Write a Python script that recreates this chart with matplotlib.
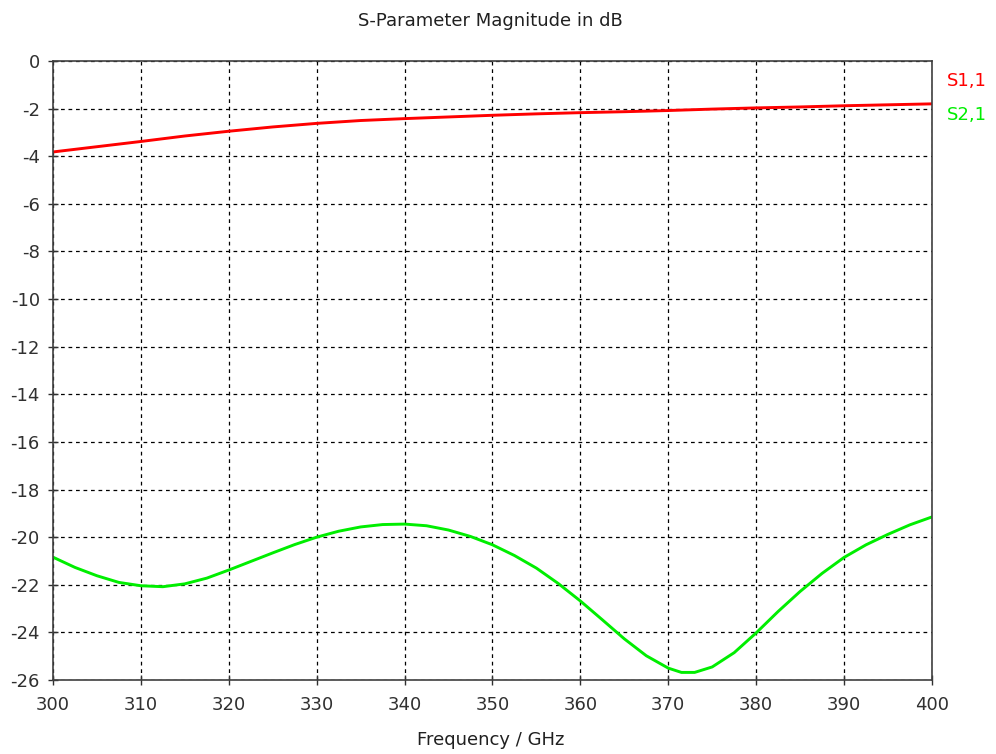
import matplotlib
matplotlib.use("Agg")
import matplotlib.pyplot as plt

# values
freq_s11 = [300, 305, 310, 315, 320, 325, 330, 335, 340, 345, 350,
            355, 360, 365, 370, 375, 380, 385, 390, 395, 400]
s11_db = [-3.82, -3.6, -3.38, -3.15, -2.95, -2.77, -2.62, -2.5, -2.42, -2.35, -2.28,
          -2.22, -2.17, -2.13, -2.08, -2.02, -1.97, -1.93, -1.88, -1.84, -1.8]

freq_s21 = [300, 302.5, 305, 307.5, 310, 312.5, 315, 317.5, 320, 322.5, 325,
            327.5, 330, 332.5, 335, 337.5, 340, 342.5, 345, 347.5, 350,
            352.5, 355, 357.5, 360, 362.5, 365, 367.5, 370, 371.5, 373, 375,
            377.5, 380, 382.5, 385, 387.5, 390, 392.5, 395, 397.5, 400]
s21_db = [-20.84, -21.27, -21.62, -21.9, -22.04, -22.08, -21.96, -21.72, -21.38, -21.02, -20.66,
          -20.31, -20.0, -19.75, -19.57, -19.47, -19.45, -19.52, -19.7, -19.97, -20.32,
          -20.77, -21.3, -21.95, -22.68, -23.47, -24.27, -24.98, -25.5, -25.68, -25.68, -25.45,
          -24.85, -24.02, -23.12, -22.28, -21.52, -20.85, -20.32, -19.88, -19.48, -19.15]

x_ticks = list(range(300, 401, 10))
y_ticks = list(range(-26, 1, 2))

plt.rcParams["font.family"] = ["DejaVu Sans"]
plt.rcParams["axes.unicode_minus"] = False

fig = plt.figure(figsize=(9.96, 7.54), dpi=100)
ax = fig.add_axes([0.0532, 0.0981, 0.8825, 0.8210])

ax.plot(freq_s11, s11_db, color="#ff0000", lw=2.1)
ax.plot(freq_s21, s21_db, color="#00ee00", lw=2.1)

ax.set_xlim(300, 400)
ax.set_ylim(-26, 0)
ax.set_xticks(x_ticks)
ax.set_yticks(y_ticks)
ax.grid(True, color="black", linestyle=(0, (3, 3)), linewidth=0.9)
ax.tick_params(direction="inout", length=7, width=1, labelsize=13, colors="#303030")
ax.tick_params(axis="x", pad=8)
ax.tick_params(axis="y", pad=6)
for sp in ax.spines.values():
    sp.set_color("#404040")
    sp.set_linewidth(1.2)

fig.text(0.492, 0.972, "S-Parameter Magnitude in dB", ha="center", va="center",
         fontsize=13, color="#202020")
fig.text(0.493, 0.018, "Frequency / GHz", ha="center", va="center",
         fontsize=13, color="#202020")
fig.text(0.951, 0.893, "S1,1", color="#ff0000", fontsize=13, va="center")
fig.text(0.951, 0.848, "S2,1", color="#00ee00", fontsize=13, va="center")

fig.savefig("out.png", dpi=100)
